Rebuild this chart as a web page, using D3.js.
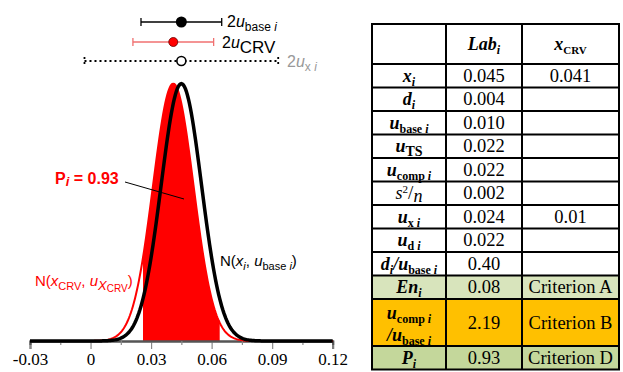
<!DOCTYPE html>
<html>
<head>
<meta charset="utf-8">
<script src="https://cdn.jsdelivr.net/npm/d3@7"></script>
<style>
body{margin:0;background:#fff;}
text{white-space:pre;}
</style>
</head>
<body>
<div id="chart"></div>
<script>
// axis
var xTicks = [-0.03, 0, 0.03, 0.06, 0.09, 0.12];
var xMinorTicks = [-0.015, 0.015, 0.045, 0.075, 0.105];
var xTickLabels = ["-0.03", "0", "0.03", "0.06", "0.09", "0.12"];

// distributions (from the table)
var labMean = 0.045, labU = 0.010;     // x_i, u_base i
var crvMean = 0.041, crvU = 0.01;      // x_CRV, u_x CRV
var uxi = 0.024;                        // u_x i
var fillRange = [0.026, 0.064];         // shaded area, P_i = 0.93

// error bars on top: centre, half width (2u)
var barCentres = [0.045, 0.041, 0.045];
var barHalf = [2 * labU, 2 * crvU, 2 * uxi];

// table
var labValues = ["0.045", "0.004", "0.010", "0.022", "0.022", "0.002", "0.024", "0.022", "0.40", "0.08", "2.19", "0.93"];
var crvValues = ["0.041", "", "", "", "", "", "0.01", "", "", "Criterion A", "Criterion B", "Criterion D"];
var rowFills = ["#fff", "#fff", "#fff", "#fff", "#fff", "#fff", "#fff", "#fff", "#fff", "#d8e4bc", "#ffc000", "#c4d79b"];
var rowSpans = [1, 1, 1, 1, 1, 1, 1, 1, 1, 1, 2, 1];

var W = 623, H = 372;
var svg = d3.select("#chart").append("svg").attr("width", W).attr("height", H);

var x = d3.scaleLinear().domain([-0.03, 0.12]).range([30, 332.7]);
var y = d3.scaleLinear().domain([0, 40]).range([341, 83]);

function richText(sel, px, py, parts, o) {
  var t = sel.append("text").attr("x", px).attr("y", py)
    .attr("font-family", o.family).attr("font-size", o.size)
    .attr("fill", o.fill || "#000")
    .attr("text-anchor", o.anchor || "start");
  var shift = 0;
  parts.forEach(function (p) {
    var s = p.shift != null ? p.shift : p.sub ? o.subShift : p.sup ? -o.supShift : 0;
    t.append("tspan").attr("dy", s - shift)
      .attr("font-size", p.size || ((p.sub || p.sup) ? o.subSize : o.size))
      .attr("font-style", p.i ? "italic" : "normal")
      .attr("font-weight", (p.b != null ? p.b : o.bold) ? "bold" : "normal")
      .text(p.t);
    shift = s;
  });
  return t;
}

// ---- curves
var pts = d3.range(-0.03, 0.12001, 0.0005);
function pdf(m, s) {
  return function (v) { return Math.exp(-0.5 * Math.pow((v - m) / s, 2)) / (s * Math.sqrt(2 * Math.PI)); };
}
var redPdf = pdf(crvMean, crvU), blackPdf = pdf(labMean, labU);

var fillPts = pts.filter(function (v) { return v >= fillRange[0] && v <= fillRange[1]; });
fillPts = [fillRange[0]].concat(fillPts).concat([fillRange[1]]);
svg.append("path")
  .attr("d", d3.area().x(function (d) { return x(d); }).y0(y(0)).y1(function (d) { return y(redPdf(d)); })(fillPts))
  .attr("fill", "#ff0000");

// axis
var axisG = svg.append("g").attr("transform", "translate(0," + y(0) + ")");
axisG.call(d3.axisBottom(x).tickValues(xTicks).tickSize(8).tickPadding(4)
  .tickFormat(function (d, i) { return xTickLabels[i]; }));
axisG.append("g").call(d3.axisBottom(x).tickValues(xMinorTicks).tickSize(4).tickFormat(""));
axisG.selectAll("path.domain").attr("stroke", "#555").attr("stroke-width", 2);
axisG.selectAll(".tick line").attr("stroke", "#888").attr("stroke-width", 1.2);
axisG.selectAll(".tick text").attr("font-family", "Liberation Serif").attr("font-size", 17).attr("fill", "#000");

svg.append("path")
  .attr("d", d3.line().x(function (d) { return x(d); }).y(function (d) { return y(redPdf(d)); })(pts))
  .attr("fill", "none").attr("stroke", "#ff0000").attr("stroke-width", 2);
svg.append("path")
  .attr("d", d3.line().x(function (d) { return x(d); }).y(function (d) { return y(blackPdf(d)); })(pts))
  .attr("fill", "none").attr("stroke", "#000").attr("stroke-width", 3.5);

// ---- error bars
var barY = [22, 42, 61];
var barColor = ["#000", "#f07070", "#000"];
barCentres.forEach(function (c, i) {
  var g = svg.append("g");
  var x0 = x(c - barHalf[i]), x1 = x(c + barHalf[i]), yy = barY[i];
  var dash = i == 2 ? "2,3" : null;
  g.append("line").attr("x1", x0).attr("x2", x1).attr("y1", yy).attr("y2", yy)
    .attr("stroke", barColor[i]).attr("stroke-width", i == 2 ? 1.8 : 1.3).attr("stroke-dasharray", dash);
  [x0, x1].forEach(function (xx) {
    g.append("line").attr("x1", xx).attr("x2", xx).attr("y1", yy - 4).attr("y2", yy + 4)
      .attr("stroke", barColor[i]).attr("stroke-width", i == 2 ? 1.8 : 1.3).attr("stroke-dasharray", dash);
  });
  if (i == 0) g.append("circle").attr("cx", x(c)).attr("cy", yy).attr("r", 5.5).attr("fill", "#000");
  if (i == 1) g.append("circle").attr("cx", x(c)).attr("cy", yy).attr("r", 4.5).attr("fill", "#ff0000").attr("stroke", "#600").attr("stroke-width", 0.8);
  if (i == 2) g.append("circle").attr("cx", x(c)).attr("cy", yy).attr("r", 4.5).attr("fill", "#fff").attr("stroke", "#000").attr("stroke-width", 1.6);
});

var sans = {family: "Liberation Sans", size: 16, subSize: 12, subShift: 4};
richText(svg, 227, 27, [{t: "2"}, {t: "u", i: 1}, {t: "base ", sub: 1}, {t: "i", sub: 1, i: 1}], sans);
richText(svg, 222, 48, [{t: "2"}, {t: "u", i: 1}, {t: "CRV", sub: 1, size: 17, shift: 5}], sans);
richText(svg, 287, 67, [{t: "2"}, {t: "u", i: 1}, {t: "x ", sub: 1}, {t: "i", sub: 1, i: 1}],
  {family: "Liberation Sans", size: 16, subSize: 12, subShift: 4, fill: "#999"});

// annotations
svg.append("line").attr("x1", 125).attr("y1", 182).attr("x2", 184).attr("y2", 199)
  .attr("stroke", "#000").attr("stroke-width", 1);
richText(svg, 55, 184, [{t: "P"}, {t: "i", i: 1, size: 13, shift: 2}, {t: " = 0.93", shift: 0}],
  {family: "Liberation Sans", size: 16, subSize: 12, subShift: 3, bold: true, fill: "#ff0000"});
richText(svg, 220, 266, [{t: "N("}, {t: "x", i: 1}, {t: "i", sub: 1, i: 1}, {t: ", "}, {t: "u", i: 1},
  {t: "base ", sub: 1}, {t: "i", sub: 1, i: 1}, {t: ")"}], {family: "Liberation Sans", size: 15, subSize: 11, subShift: 4});
richText(svg, 35, 286, [{t: "N("}, {t: "x", i: 1}, {t: "CRV", sub: 1}, {t: ", "}, {t: "u", i: 1},
  {t: "X", sub: 1, i: 1, size: 13}, {t: "CRV", size: 10, shift: 6}, {t: ")", shift: 0}],
  {family: "Liberation Sans", size: 15, subSize: 11, subShift: 4, fill: "#ff0000"});

// ---- table
var colX = [372, 446, 522, 619];
var tTop = 24, headH = 40, rowH = 23.5;
var serif = {family: "Liberation Serif", size: 18, subSize: 12, subShift: 4, supShift: 6, anchor: "middle", bold: true};

var rowLabels = [
  [{t: "x", i: 1}, {t: "i", sub: 1, i: 1}],
  [{t: "d", i: 1}, {t: "i", sub: 1, i: 1}],
  [{t: "u", i: 1}, {t: "base ", sub: 1}, {t: "i", sub: 1, i: 1}],
  [{t: "u", i: 1}, {t: "TS", sub: 1, size: 14}],
  [{t: "u", i: 1}, {t: "comp ", sub: 1}, {t: "i", sub: 1, i: 1}],
  [{t: "s", i: 1, b: 0, size: 18}, {t: "2", sup: 1, b: 0, size: 11}, {t: "/", b: 0, size: 19, shift: 0}, {t: "n", i: 1, b: 0, size: 18, shift: 3}],
  [{t: "u", i: 1}, {t: "x ", sub: 1}, {t: "i", sub: 1, i: 1}],
  [{t: "u", i: 1}, {t: "d ", sub: 1}, {t: "i", sub: 1, i: 1}],
  [{t: "d", i: 1}, {t: "i", sub: 1, i: 1}, {t: "/", i: 1}, {t: "u", i: 1}, {t: "base ", sub: 1}, {t: "i", sub: 1, i: 1}],
  [{t: "En", i: 1}, {t: "i", sub: 1, i: 1}],
  null,
  [{t: "P", i: 1}, {t: "i", sub: 1, i: 1}]
];

var tbl = svg.append("g");
var yPos = tTop + headH;
var rowTops = [];
rowSpans.forEach(function (s, r) {
  rowTops.push(yPos);
  tbl.append("rect").attr("x", colX[0]).attr("y", yPos).attr("width", colX[3] - colX[0]).attr("height", s * rowH)
    .attr("fill", rowFills[r]);
  yPos += s * rowH;
});
var tBottom = yPos;

// header
richText(tbl, (colX[1] + colX[2]) / 2, tTop + 26, [{t: "Lab", i: 1}, {t: "i", sub: 1, i: 1}], serif);
richText(tbl, (colX[2] + colX[3]) / 2, tTop + 26, [{t: "x", i: 1}, {t: "CRV", sub: 1, size: 11}], serif);

rowSpans.forEach(function (s, r) {
  var cy = rowTops[r] + s * rowH / 2 + 6;
  if (rowLabels[r]) {
    richText(tbl, (colX[0] + colX[1]) / 2, cy, rowLabels[r], serif);
  } else {
    richText(tbl, (colX[0] + colX[1]) / 2, cy - 10, [{t: "u", i: 1}, {t: "comp ", sub: 1}, {t: "i", sub: 1, i: 1}], serif);
    richText(tbl, (colX[0] + colX[1]) / 2, cy + 12, [{t: "/", i: 1}, {t: "u", i: 1}, {t: "base ", sub: 1}, {t: "i", sub: 1, i: 1}], serif);
  }
  tbl.append("text").attr("x", (colX[1] + colX[2]) / 2).attr("y", cy).attr("text-anchor", "middle")
    .attr("font-family", "Liberation Serif").attr("font-size", 18.5).text(labValues[r]);
  tbl.append("text").attr("x", (colX[2] + colX[3]) / 2).attr("y", cy).attr("text-anchor", "middle")
    .attr("font-family", "Liberation Serif").attr("font-size", 18.5).text(crvValues[r]);
});

// grid lines
var hLines = [tTop, tTop + headH].concat(rowTops.slice(1)).concat([tBottom]);
hLines.forEach(function (yy) {
  tbl.append("line").attr("x1", colX[0] - 1).attr("x2", colX[3] + 1).attr("y1", yy).attr("y2", yy)
    .attr("stroke", "#000").attr("stroke-width", 2);
});
colX.forEach(function (xx) {
  tbl.append("line").attr("x1", xx).attr("x2", xx).attr("y1", tTop).attr("y2", tBottom)
    .attr("stroke", "#000").attr("stroke-width", 2);
});
</script>
</body>
</html>
